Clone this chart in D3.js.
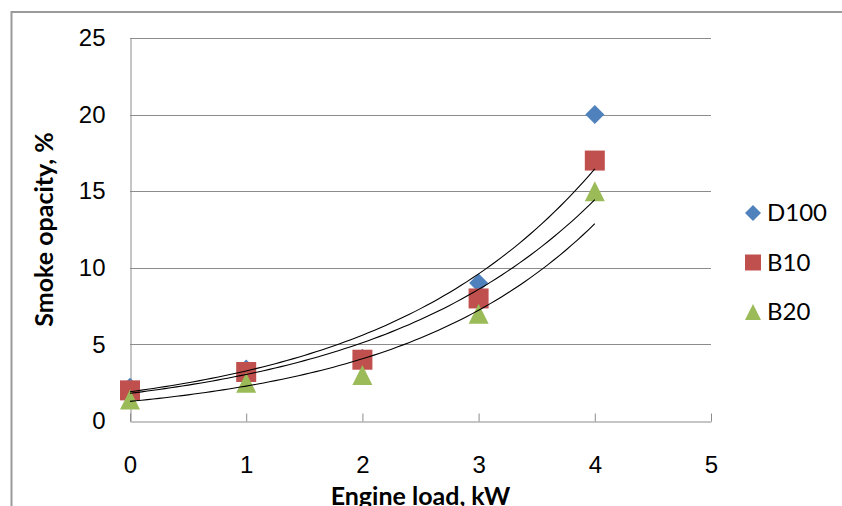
<!DOCTYPE html>
<html>
<head>
<meta charset="utf-8">
<script src="https://cdn.jsdelivr.net/npm/d3@7"></script>
<style>
  body { margin: 0; background: #fff; }
  svg { display: block; font-family: Lato, "Open Sans", sans-serif; }
  .tick text { font-size: 24px; fill: #000; }
  .axis-title { font-size: 25px; font-weight: bold; fill: #000; }
  .legend text { font-size: 24px; fill: #000; }
</style>
</head>
<body>
<svg class="chart" width="842" height="506"></svg>
<script>
// engine load (kW)
var loads = [0, 1, 2, 3, 4];
// smoke opacity (%) per fuel
var d100 = [2.2, 3.4, 4.1, 9, 20];
var b10 = [2, 3.2, 4, 8, 17];
var b20 = [1.4, 2.5, 3, 7, 15];
var xTicks = [0, 1, 2, 3, 4, 5];
var yTicks = [0, 5, 10, 15, 20, 25];

// excel-like marker shapes, r = half size, centred on bounding box
function marker(shape, r) {
  if (shape == "diamond") return "M0," + (-r) + "L" + r + ",0L0," + r + "L" + (-r) + ",0Z";
  if (shape == "square") return "M" + (-r) + "," + (-r) + "h" + 2 * r + "v" + 2 * r + "h" + (-2 * r) + "Z";
  return "M0," + (-r) + "L" + r + "," + r + "L" + (-r) + "," + r + "Z";
}

var series = [
  { name: "D100", v: d100, color: "#4F81BD", shape: "diamond", r: 9.5 },
  { name: "B10", v: b10, color: "#C0504D", shape: "square", r: 10 },
  { name: "B20", v: b20, color: "#9BBB59", shape: "triangle", r: 10 }
];

var margin = { top: 38, left: 130 };
var width = 711 - 130, height = 421 - 38;

var svg = d3.select(".chart");

// outer chart border (top + left only, rest is cropped)
svg.append("path")
  .attr("d", "M11.5,506 V12 H842")
  .attr("fill", "none").attr("stroke", "#9a9a9a").attr("stroke-width", 2);

var g = svg.append("g").attr("transform", "translate(" + margin.left + "," + margin.top + ")");

var x = d3.scaleLinear().domain([0, 5]).range([0, width]);
var y = d3.scaleLinear().domain([0, 25]).range([height, 0]);

// horizontal gridlines
g.append("g").selectAll("line")
  .data(yTicks.slice(1)).enter()
  .append("line")
  .attr("x1", 0).attr("x2", width)
  .attr("y1", d => Math.round(y(d)) + 0.5).attr("y2", d => Math.round(y(d)) + 0.5)
  .attr("stroke", "#8c8c8c");

// y axis
var yAxis = g.append("g")
  .attr("transform", "translate(0.5,0)")
  .call(d3.axisLeft(y).tickValues(yTicks).tickSize(0).tickPadding(25).tickFormat(d3.format("d")));
yAxis.select(".domain").attr("stroke", "#8c8c8c");
yAxis.selectAll(".tick text").attr("font-family", null).attr("font-size", null);

// x axis, ticks pointing inward
var xAxis = g.append("g")
  .attr("transform", "translate(0," + (height + 0.5) + ")")
  .call(d3.axisTop(x).tickValues(xTicks).tickSizeInner(8).tickSizeOuter(0).tickFormat(d3.format("d")));
xAxis.select(".domain").attr("stroke", "#8c8c8c");
xAxis.selectAll(".tick line").attr("stroke", "#8c8c8c");
xAxis.selectAll(".tick text")
  .attr("font-family", null).attr("font-size", null)
  .attr("y", 43).attr("dy", "0.35em");

// markers
series.forEach(function(s) {
  g.append("g").selectAll("path")
    .data(s.v).enter()
    .append("path")
    .attr("transform", (d, i) => "translate(" + x(loads[i]) + "," + y(d) + ")")
    .attr("d", marker(s.shape, s.r))
    .attr("fill", s.color);
});

// exponential trendlines (least squares on ln y), drawn over markers
var line = d3.line().x(d => x(d[0])).y(d => y(d[1]));
series.forEach(function(s) {
  var mx = d3.mean(loads), ml = d3.mean(s.v, v => Math.log(v));
  var b = d3.sum(loads, (xi, i) => (xi - mx) * (Math.log(s.v[i]) - ml)) / d3.sum(loads, xi => (xi - mx) * (xi - mx));
  var a = Math.exp(ml - b * mx);
  var pts = d3.range(0, 4.001, 0.05).map(t => [t, a * Math.exp(b * t)]);
  g.append("path")
    .attr("d", line(pts))
    .attr("fill", "none")
    .attr("stroke", "#000")
    .attr("stroke-width", 1.1);
});

// axis titles
svg.append("text")
  .attr("class", "axis-title")
  .attr("x", margin.left + width / 2).attr("y", 505)
  .attr("text-anchor", "middle")
  .text("Engine load, kW");
svg.append("text")
  .attr("class", "axis-title")
  .attr("transform", "translate(53," + (margin.top + height / 2) + ") rotate(-90)")
  .attr("text-anchor", "middle")
  .text("Smoke opacity, %");

// legend
var legend = svg.append("g").attr("class", "legend")
  .selectAll("g").data(series).enter()
  .append("g")
  .attr("transform", (d, i) => "translate(753," + (213 + i * 49.5) + ")");
legend.append("path")
  .attr("d", d => marker(d.shape, 8))
  .attr("fill", d => d.color);
legend.append("text")
  .attr("x", 14).attr("dy", "0.35em")
  .text(d => d.name);
</script>
</body>
</html>
